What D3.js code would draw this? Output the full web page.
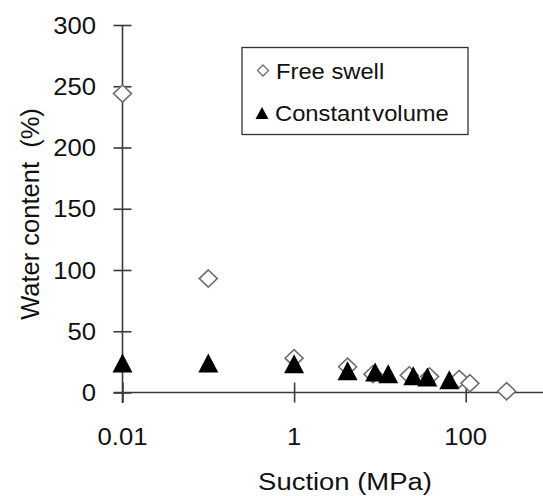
<!DOCTYPE html>
<html><head><meta charset="utf-8">
<script src="https://cdn.jsdelivr.net/npm/d3@7"></script>
<style>body{margin:0;background:#fff}svg{display:block}</style>
</head><body>
<script>
// ---- data ----
const freeSwellSuction = [0.01, 0.1, 1, 4.2, 8.3, 22, 38, 84, 112, 300];
const freeSwellWater   = [244, 93, 28, 21, 15, 14, 13, 11, 7.5, 1];
const constVolSuction  = [0.01, 0.1, 1, 4.2, 8.8, 12.5, 24.5, 35.7, 64.4];
const constVolWater    = [24, 24, 23.5, 17.7, 16.7, 15.3, 13.6, 12.7, 10.4];
const xTickValues = [0.01, 1, 100];
const xTickLabels = ["0.01", "1", "100"];
const yTickValues = [0, 50, 100, 150, 200, 250, 300];
const seriesNames = ["Free swell", "Constant volume"];
const xTitle = "Suction (MPa)";
const yTitle = "Water content\u00a0\u00a0(%)";

const W = 543, H = 496;
const FONT = "'Liberation Sans', Arial, sans-serif";
const SX = 1.08; // horizontal stretch of text in reference

const svg = d3.select("body").append("svg").attr("width", W).attr("height", H);

const x = d3.scaleLog().domain([0.01, 1000]).range([122.5, 551.5]);
const y = d3.scaleLinear().domain([0, 300]).range([392.5, 25]);

const axisColor = "#3a3a3a";

// y axis
const gy = svg.append("g").attr("transform", `translate(${x(0.01)},0)`)
  .call(d3.axisLeft(y).tickValues(yTickValues).tickSize(9).tickFormat(""));
gy.select(".domain").remove();
gy.selectAll(".tick line").attr("x1", -9).attr("x2", 9).attr("stroke", axisColor).attr("stroke-width", 1.6);
svg.append("line").attr("x1", x(0.01)).attr("x2", x(0.01)).attr("y1", y(300)).attr("y2", y(0) + 10.5)
  .attr("stroke", axisColor).attr("stroke-width", 1.6);

// x axis
const gx = svg.append("g").attr("transform", `translate(0,${y(0)})`)
  .call(d3.axisBottom(x).tickValues(xTickValues).tickSize(10).tickFormat(""));
gx.select(".domain").remove();
gx.selectAll(".tick line").attr("y1", -10).attr("y2", 10).attr("stroke", axisColor).attr("stroke-width", 1.6);
svg.append("line").attr("x1", x(0.01) - 9).attr("x2", W).attr("y1", y(0)).attr("y2", y(0))
  .attr("stroke", axisColor).attr("stroke-width", 1.6);

function stretchedText(g, px, py, txt, anchor, size, sx) {
  return g.append("text").attr("transform", `translate(${px},${py}) scale(${sx || SX},1)`)
    .attr("text-anchor", anchor).attr("font-family", FONT).attr("font-size", size)
    .attr("fill", "#111").text(txt);
}

// tick labels
yTickValues.forEach(v => stretchedText(svg, 96, y(v) + 8.5, String(v), "end", 24, 1.07));
xTickValues.forEach((v, i) => stretchedText(svg, x(v), 445, xTickLabels[i], "middle", 24, 1.07));

// titles
stretchedText(svg, 345, 490, xTitle, "middle", 24.5, 1.12);
svg.append("text").attr("transform", `translate(39,214) rotate(-90)`)
  .attr("text-anchor", "middle").attr("font-family", FONT).attr("font-size", 25.5)
  .attr("fill", "#111").text(yTitle);

// markers
const diamond = (hw, hh) => `M0,${-hh}L${hw},0L0,${hh}L${-hw},0Z`;
const triangle = (hw, hh) => `M0,${-hh}L${hw},${hh}L${-hw},${hh}Z`;

const fs = freeSwellSuction.map((s, i) => ({s, w: freeSwellWater[i]}));
const cv = constVolSuction.map((s, i) => ({s, w: constVolWater[i]}));

svg.append("g").selectAll("path").data(fs).join("path")
  .attr("d", diamond(9, 8.6))
  .attr("transform", d => `translate(${x(d.s)},${y(d.w)})`)
  .attr("fill", "#fff").attr("stroke", "#6e6e6e").attr("stroke-width", 1.6);

svg.append("g").selectAll("path").data(cv).join("path")
  .attr("d", triangle(10, 9.5))
  .attr("transform", d => `translate(${x(d.s)},${y(d.w)})`)
  .attr("fill", "#000");

// legend
const lg = svg.append("g");
lg.append("rect").attr("x", 242).attr("y", 47.5).attr("width", 226).attr("height", 87)
  .attr("fill", "#fff").attr("stroke", "#333").attr("stroke-width", 1.3);
lg.append("path").attr("d", diamond(5.5, 5.5)).attr("transform", "translate(263,70.5)")
  .attr("fill", "#fff").attr("stroke", "#6e6e6e").attr("stroke-width", 1.3);
lg.append("path").attr("d", triangle(6.5, 6)).attr("transform", "translate(262,113)")
  .attr("fill", "#000");
stretchedText(lg, 276, 78.5, seriesNames[0], "start", 22);
stretchedText(lg, 275, 121, seriesNames[1], "start", 22).attr("word-spacing", -4);
</script>
</body></html>
